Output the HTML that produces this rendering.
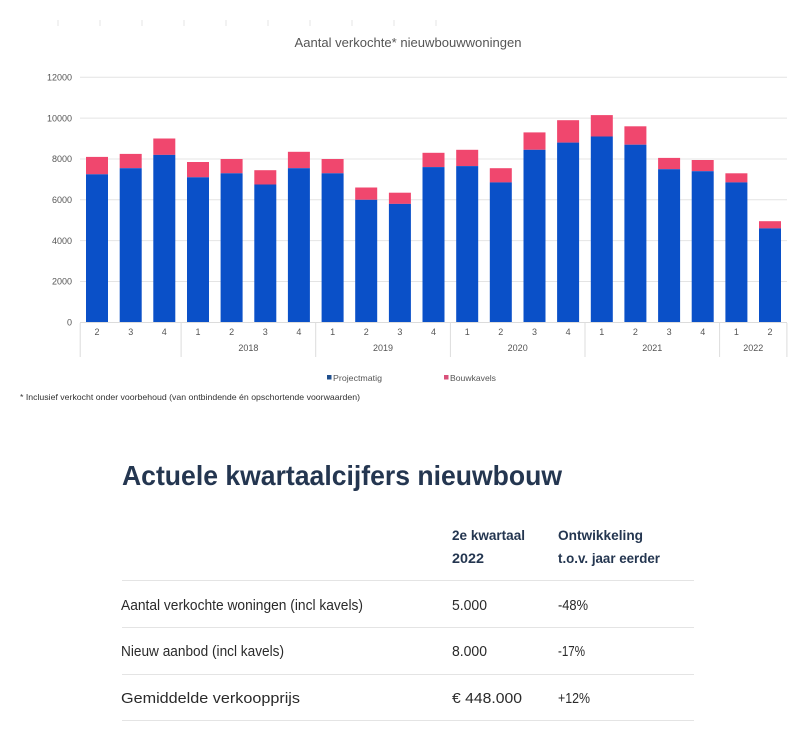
<!DOCTYPE html>
<html><head><meta charset="utf-8"><style>
html,body{margin:0;padding:0;background:#fff;}
svg{display:block;}
</style></head><body>
<svg width="800" height="729" viewBox="0 0 800 729" xmlns="http://www.w3.org/2000/svg" font-family="Liberation Sans, sans-serif">
<rect width="800" height="729" fill="#fff"/>
<g stroke="#e6e6e6" stroke-width="1">
<line x1="58" y1="20" x2="58" y2="26"/><line x1="100" y1="20" x2="100" y2="26"/><line x1="142" y1="20" x2="142" y2="26"/><line x1="184" y1="20" x2="184" y2="26"/><line x1="226" y1="20" x2="226" y2="26"/><line x1="268" y1="20" x2="268" y2="26"/><line x1="310" y1="20" x2="310" y2="26"/><line x1="352" y1="20" x2="352" y2="26"/><line x1="394" y1="20" x2="394" y2="26"/><line x1="436" y1="20" x2="436" y2="26"/>
</g>
<text x="408" y="47" font-size="12.5" fill="#555" text-anchor="middle" textLength="227" lengthAdjust="spacingAndGlyphs">Aantal verkochte* nieuwbouwwoningen</text>
<g stroke="#e4e4e4" stroke-width="1">
<line x1="80" y1="77.3" x2="787" y2="77.3"/>
<line x1="80" y1="118.1" x2="787" y2="118.1"/>
<line x1="80" y1="159" x2="787" y2="159"/>
<line x1="80" y1="199.8" x2="787" y2="199.8"/>
<line x1="80" y1="240.6" x2="787" y2="240.6"/>
<line x1="80" y1="281.5" x2="787" y2="281.5"/>
</g>
<g font-size="9" fill="#555" text-anchor="end">
<text x="72" y="80.5">12000</text><text x="72" y="121.3">10000</text><text x="72" y="162.2">8000</text><text x="72" y="203">6000</text><text x="72" y="243.8">4000</text><text x="72" y="284.7">2000</text><text x="72" y="325.5">0</text>
</g>
<g fill="#f0476e">
<rect x="86" y="156.9" width="22" height="17.4"/>
<rect x="119.7" y="153.9" width="22" height="14.3"/>
<rect x="153.3" y="138.5" width="22" height="16.4"/>
<rect x="187" y="162" width="22" height="15.3"/>
<rect x="220.6" y="159" width="22" height="14.3"/>
<rect x="254.3" y="170.2" width="22" height="14.3"/>
<rect x="287.9" y="151.8" width="22" height="16.4"/>
<rect x="321.6" y="159" width="22" height="14.3"/>
<rect x="355.2" y="187.5" width="22" height="12.3"/>
<rect x="388.9" y="192.7" width="22" height="11.2"/>
<rect x="422.5" y="152.8" width="22" height="14.3"/>
<rect x="456.2" y="149.8" width="22" height="16.3"/>
<rect x="489.8" y="168.2" width="22" height="14.2"/>
<rect x="523.5" y="132.4" width="22" height="17.4"/>
<rect x="557.1" y="120.2" width="22" height="22.4"/>
<rect x="590.8" y="115.1" width="22" height="21.4"/>
<rect x="624.4" y="126.3" width="22" height="18.4"/>
<rect x="658.1" y="157.9" width="22" height="11.3"/>
<rect x="691.7" y="160" width="22" height="11.2"/>
<rect x="725.4" y="173.3" width="22" height="9.1"/>
<rect x="759" y="221.2" width="22" height="7.2"/>
</g>
<g fill="#0a50c8">
<rect x="86" y="174.3" width="22" height="148"/>
<rect x="119.7" y="168.2" width="22" height="154.1"/>
<rect x="153.3" y="154.9" width="22" height="167.4"/>
<rect x="187" y="177.3" width="22" height="145"/>
<rect x="220.6" y="173.3" width="22" height="149"/>
<rect x="254.3" y="184.5" width="22" height="137.8"/>
<rect x="287.9" y="168.2" width="22" height="154.1"/>
<rect x="321.6" y="173.3" width="22" height="149"/>
<rect x="355.2" y="199.8" width="22" height="122.5"/>
<rect x="388.9" y="203.9" width="22" height="118.4"/>
<rect x="422.5" y="167.1" width="22" height="155.2"/>
<rect x="456.2" y="166.1" width="22" height="156.2"/>
<rect x="489.8" y="182.4" width="22" height="139.9"/>
<rect x="523.5" y="149.8" width="22" height="172.5"/>
<rect x="557.1" y="142.6" width="22" height="179.7"/>
<rect x="590.8" y="136.5" width="22" height="185.8"/>
<rect x="624.4" y="144.7" width="22" height="177.6"/>
<rect x="658.1" y="169.2" width="22" height="153.1"/>
<rect x="691.7" y="171.2" width="22" height="151.1"/>
<rect x="725.4" y="182.4" width="22" height="139.9"/>
<rect x="759" y="228.4" width="22" height="93.9"/>
</g>
<g stroke="#dcdcdc" stroke-width="1">
<line x1="80" y1="322.5" x2="787" y2="322.5"/>
<line x1="80.2" y1="323" x2="80.2" y2="357"/>
<line x1="181.1" y1="323" x2="181.1" y2="357"/>
<line x1="315.7" y1="323" x2="315.7" y2="357"/>
<line x1="450.4" y1="323" x2="450.4" y2="357"/>
<line x1="585" y1="323" x2="585" y2="357"/>
<line x1="719.6" y1="323" x2="719.6" y2="357"/>
<line x1="786.9" y1="323" x2="786.9" y2="357"/>
</g>
<g font-size="9" fill="#555" text-anchor="middle">
<text x="97" y="335">2</text><text x="130.7" y="335">3</text><text x="164.3" y="335">4</text>
<text x="198" y="335">1</text><text x="231.6" y="335">2</text><text x="265.3" y="335">3</text><text x="298.9" y="335">4</text>
<text x="332.6" y="335">1</text><text x="366.2" y="335">2</text><text x="399.9" y="335">3</text><text x="433.5" y="335">4</text>
<text x="467.2" y="335">1</text><text x="500.8" y="335">2</text><text x="534.5" y="335">3</text><text x="568.1" y="335">4</text>
<text x="601.8" y="335">1</text><text x="635.4" y="335">2</text><text x="669.1" y="335">3</text><text x="702.7" y="335">4</text>
<text x="736.4" y="335">1</text><text x="770" y="335">2</text>
<text x="248.4" y="351">2018</text><text x="383" y="351">2019</text><text x="517.7" y="351">2020</text><text x="652.3" y="351">2021</text><text x="753.3" y="351">2022</text>
</g>
<rect x="327" y="375" width="4.5" height="4.5" fill="#1f4e8c"/>
<text x="333" y="381" font-size="8.5" fill="#555" textLength="49" lengthAdjust="spacingAndGlyphs">Projectmatig</text>
<rect x="444" y="375" width="4.5" height="4.5" fill="#d9517a"/>
<text x="450" y="381" font-size="8.5" fill="#555" textLength="46" lengthAdjust="spacingAndGlyphs">Bouwkavels</text>
<text x="20" y="400" font-size="8.5" fill="#333" textLength="340" lengthAdjust="spacingAndGlyphs">* Inclusief verkocht onder voorbehoud (van ontbindende én opschortende voorwaarden)</text>
<text x="122" y="485" font-size="28" font-weight="bold" fill="#243650" textLength="440" lengthAdjust="spacingAndGlyphs">Actuele kwartaalcijfers nieuwbouw</text>
<g font-size="14" font-weight="bold" fill="#243650">
<text x="452" y="540" textLength="73" lengthAdjust="spacingAndGlyphs">2e kwartaal</text>
<text x="452" y="563" textLength="32" lengthAdjust="spacingAndGlyphs">2022</text>
<text x="558" y="540" textLength="85" lengthAdjust="spacingAndGlyphs">Ontwikkeling</text>
<text x="558" y="563" textLength="102" lengthAdjust="spacingAndGlyphs">t.o.v. jaar eerder</text>
</g>
<g stroke="#e4e4e4" stroke-width="1">
<line x1="122" y1="580.5" x2="694" y2="580.5"/>
<line x1="122" y1="627.5" x2="694" y2="627.5"/>
<line x1="122" y1="674.5" x2="694" y2="674.5"/>
<line x1="122" y1="720.5" x2="694" y2="720.5"/>
</g>
<g font-size="14.5" fill="#2a2a2a">
<text x="121" y="610" textLength="242" lengthAdjust="spacingAndGlyphs">Aantal verkochte woningen (incl kavels)</text>
<text x="452" y="610" textLength="35" lengthAdjust="spacingAndGlyphs">5.000</text>
<text x="558" y="610" textLength="30" lengthAdjust="spacingAndGlyphs">-48%</text>
<text x="121" y="656" textLength="163" lengthAdjust="spacingAndGlyphs">Nieuw aanbod (incl kavels)</text>
<text x="452" y="656" textLength="35" lengthAdjust="spacingAndGlyphs">8.000</text>
<text x="558" y="656" textLength="27" lengthAdjust="spacingAndGlyphs">-17%</text>
<text x="121" y="703" textLength="179" lengthAdjust="spacingAndGlyphs">Gemiddelde verkoopprijs</text>
<text x="452" y="703" textLength="70" lengthAdjust="spacingAndGlyphs">€ 448.000</text>
<text x="558" y="703" textLength="32" lengthAdjust="spacingAndGlyphs">+12%</text>
</g>
</svg>
</body></html>
